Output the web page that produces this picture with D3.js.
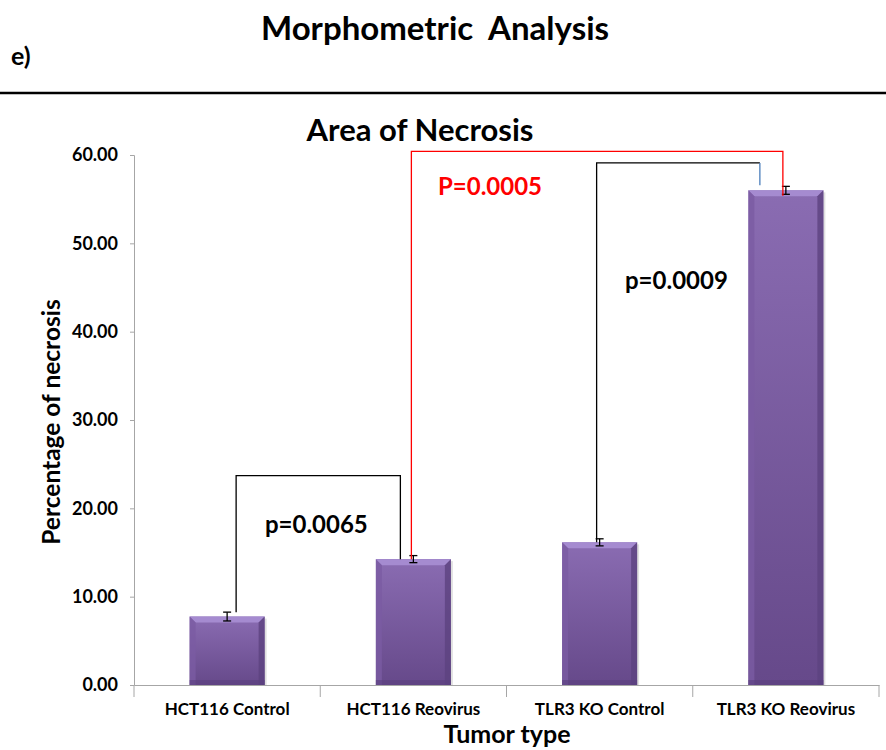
<!DOCTYPE html>
<html><head><meta charset="utf-8">
<script src="https://cdn.jsdelivr.net/npm/d3@7"></script>
<style>body{margin:0;background:#fff}svg{display:block}text{font-family:Lato,"Open Sans",sans-serif;font-weight:bold;white-space:pre}</style>
</head><body>
<script>
const categories = ["HCT116 Control","HCT116 Reovirus","TLR3 KO Control","TLR3 KO Reovirus"];
const values = [7.75, 14.25, 16.15, 56.0];
const errors = [0.5, 0.4, 0.4, 0.45];
const yTicks = [0,10,20,30,40,50,60];
// brackets: from category i to category j, top value, label, colour
const brackets = [
  {from:0, to:1, top:23.7, label:"p=0.0065", color:"#000", lx:0.703, ly:17.2},
  {from:2, to:3, top:59.1, label:"p=0.0009", color:"#000", lx:2.636, ly:44.8},
  {from:1, to:3, top:60.4, label:"P=0.0005", color:"#ff0000", lx:1.632, ly:55.5}
];

const W=886,H=750;
const svg=d3.select("body").append("svg").attr("width",W).attr("height",H);
const x=d3.scaleBand().domain(categories).range([134,879]);
const y=d3.scaleLinear().domain([0,60]).range([685,155]);

// headings
svg.append("text").attr("x",435).attr("y",40).attr("text-anchor","middle").attr("font-size",33).text("Morphometric  Analysis");
svg.append("text").attr("x",11).attr("y",65).attr("font-size",25).text("e)");
svg.append("line").attr("x1",0).attr("x2",W).attr("y1",93).attr("y2",93).attr("stroke","#000").attr("stroke-width",2.5);
svg.append("text").attr("x",420).attr("y",141).attr("text-anchor","middle").attr("font-size",31).text("Area of Necrosis");

// defs
const defs=svg.append("defs");
const g1=defs.append("linearGradient").attr("id","body").attr("x1",0).attr("x2",0).attr("y1",0).attr("y2",1);
g1.append("stop").attr("offset","0%").attr("stop-color","#8a6cb2");
g1.append("stop").attr("offset","100%").attr("stop-color","#66498a");

// axes
const yAxis=svg.append("g").attr("transform","translate(134,0)").call(d3.axisLeft(y).tickValues(yTicks).tickFormat(d3.format(".2f")).tickSize(4).tickPadding(12));
yAxis.select(".domain").attr("stroke","#a6a6a6");
yAxis.selectAll(".tick line").attr("stroke","#a6a6a6");
yAxis.selectAll("text").attr("font-size",18).attr("font-weight","bold").attr("fill","#000").attr("font-family","Lato,sans-serif");

const xAxis=svg.append("g").attr("transform","translate(0,685)").call(d3.axisBottom(x).tickSize(0).tickPadding(18));
xAxis.select(".domain").attr("stroke","#a6a6a6");
xAxis.selectAll("text").attr("font-size",17).attr("font-weight","bold").attr("fill","#000").attr("font-family","Lato,sans-serif");
// boundary ticks
const bounds=categories.map(c=>x(c)).concat([x.range()[1]]);
svg.append("g").selectAll("line").data(bounds).join("line")
 .attr("x1",d=>d).attr("x2",d=>d).attr("y1",685).attr("y2",697).attr("stroke","#a6a6a6");

svg.append("text").attr("x",507).attr("y",743).attr("text-anchor","middle").attr("font-size",25).text("Tumor type");
svg.append("text").attr("transform","translate(60,422) rotate(-90)").attr("text-anchor","middle").attr("font-size",24.5).text("Percentage of necrosis");

// bars
const bw=75;
const bars=svg.append("g").selectAll("g").data(categories).join("g");
bars.each(function(c,i){
  const g=d3.select(this);
  const cx=x(c)+x.bandwidth()/2, x0=cx-bw/2, x1=cx+bw/2, yt=y(values[i]), yb=y(0), b=6;
  g.append("rect").attr("x",x0+2).attr("y",yt+2).attr("width",bw).attr("height",yb-yt-2).attr("fill","#000").attr("opacity",0.12);
  g.append("rect").attr("x",x0).attr("y",yt).attr("width",bw).attr("height",yb-yt).attr("fill","url(#body)");
  g.append("polygon").attr("points",`${x0},${yt} ${x1},${yt} ${x1-b},${yt+b} ${x0+b},${yt+b}`).attr("fill","#a58bd0");
  g.append("polygon").attr("points",`${x0},${yt} ${x0+b},${yt+b} ${x0+b},${yb} ${x0},${yb}`).attr("fill","#7a5ba3").attr("opacity",0.8);
  g.append("polygon").attr("points",`${x1},${yt} ${x1-b},${yt+b} ${x1-b},${yb} ${x1},${yb}`).attr("fill","#5c4280").attr("opacity",0.8);
  g.append("rect").attr("x",x0).attr("y",yb-5).attr("width",bw).attr("height",5).attr("fill","#5a3f7e").attr("opacity",0.6);
});

// error bars
const eb=svg.append("g").attr("stroke","#000").attr("stroke-width",1.3);
categories.forEach((c,i)=>{
  const cx=x(c)+x.bandwidth()/2, hi=y(values[i]+errors[i]), lo=y(values[i]-errors[i]);
  eb.append("line").attr("x1",cx).attr("x2",cx).attr("y1",hi).attr("y2",lo);
  eb.append("line").attr("x1",cx-4).attr("x2",cx+4).attr("y1",hi).attr("y2",hi);
  eb.append("line").attr("x1",cx-4).attr("x2",cx+4).attr("y1",lo).attr("y2",lo);
});

// brackets
const cxOf=i=>x(categories[i])+x.bandwidth()/2;
const offs=[{l:9,r:-13},{l:-3,r:-26},{l:-2,r:-3}];
brackets.forEach((bk,k)=>{
  const o=offs[k];
  const xl=cxOf(bk.from)+o.l, xr=cxOf(bk.to)+o.r;
  const yl=k===0? y(values[bk.from]+errors[bk.from]) : y(values[bk.from]);
  const yr= k===1? y(values[bk.to])-5 : y(values[bk.to]-0.6*(k===2?1:0));
  const yt=y(bk.top);
  if(k===1){
    svg.append("path").attr("d",`M${xl},${yl}V${yt}H${xr}`).attr("fill","none").attr("stroke",bk.color).attr("stroke-width",1.3);
    svg.append("line").attr("x1",xr).attr("x2",xr).attr("y1",yt).attr("y2",yr).attr("stroke","#4a7ebb").attr("stroke-width",1.3);
  } else {
    svg.append("path").attr("d",`M${xl},${yl}V${yt}H${xr}V${yr}`).attr("fill","none").attr("stroke",bk.color).attr("stroke-width",1.3);
  }
  svg.append("text").attr("x",x(categories[0])+bk.lx*x.bandwidth()).attr("y",y(bk.ly)).attr("font-size",24).attr("fill",bk.color).text(bk.label);
});
</script>
</body></html>
